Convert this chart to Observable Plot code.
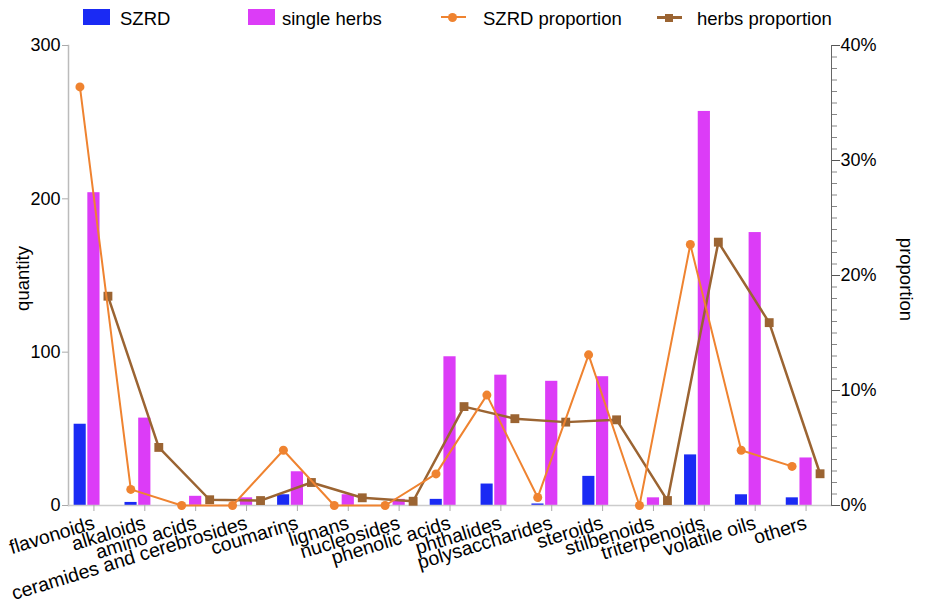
<!DOCTYPE html>
<html>
<head>
<meta charset="utf-8">
<script src="https://cdn.jsdelivr.net/npm/d3@7"></script>
<script src="https://cdn.jsdelivr.net/npm/@observablehq/plot@0.6"></script>
<style>
  html, body { margin: 0; padding: 0; background: #fff; }
  body { font-family: "Liberation Sans", Arial, sans-serif; width: 952px; }
  #legend { position: relative; height: 35px; width: 952px; font-size: 18.5px; color: #000; }
  #legend .t { position: absolute; top: 9px; line-height: 20px; white-space: nowrap; }
  #legend .sw { position: absolute; }
</style>
</head>
<body>
<div id="legend"></div>
<div id="chart"></div>
<script>
// ---- data ----
const categories = ["flavonoids", "alkaloids", "amino acids", "ceramides and cerebrosides", "coumarins", "lignans", "nucleosides", "phenolic acids", "phthalides", "polysaccharides", "steroids", "stilbenoids", "triterpenoids", "volatile oils", "others"];
const szrdCounts = [53, 2, 0, 0, 7, 0, 0, 4, 14, 1, 19, 0, 33, 7, 5];
const herbCounts = [204, 57, 6, 5, 22, 7, 4, 97, 85, 81, 84, 5, 257, 178, 31];
const szrdProportion = [36.4, 1.4, 0, 0, 4.8, 0, 0, 2.75, 9.6, 0.7, 13.1, 0, 22.7, 4.8, 3.4];   // percent
const herbsProportion = [18.2, 5.05, 0.5, 0.43, 2.0, 0.67, 0.37, 8.6, 7.55, 7.25, 7.45, 0.43, 22.9, 15.9, 2.76]; // percent
const quantityTicks = [0, 100, 200, 300];
const proportionTicks = [0, 10, 20, 30, 40];
const proportionMinorTicks = d3.range(0, 41, 1);
const seriesNames = ["SZRD", "single herbs", "SZRD proportion", "herbs proportion"];

const BLUE = "#1a2af4", MAGENTA = "#dc3cf7", ORANGE = "#ef8330", BROWN = "#9b6432";
const QMAX = 300, PMAX = 40, K = QMAX / PMAX; // proportion -> quantity axis

const data = categories.map((c, i) => ({
  cat: c, szrd: szrdCounts[i], herbs: herbCounts[i],
  sp: szrdProportion[i] * K, hp: herbsProportion[i] * K
}));

// ---- legend ----
const legend = document.getElementById("legend");
function add(html) { legend.insertAdjacentHTML("beforeend", html); }
add(`<div class="sw" style="left:83px;top:9px;width:27px;height:16px;background:${BLUE}"></div>`);
add(`<div class="t" style="left:120px">${seriesNames[0]}</div>`);
add(`<div class="sw" style="left:248px;top:9px;width:27px;height:16px;background:${MAGENTA}"></div>`);
add(`<div class="t" style="left:282px">${seriesNames[1]}</div>`);
add(`<div class="sw" style="left:441px;top:16px;width:25px;height:2px;background:${ORANGE}"></div>`);
add(`<div class="sw" style="left:448px;top:12.5px;width:9px;height:9px;border-radius:50%;background:${ORANGE}"></div>`);
add(`<div class="t" style="left:483px">${seriesNames[2]}</div>`);
add(`<div class="sw" style="left:657px;top:16px;width:25px;height:2.5px;background:${BROWN}"></div>`);
add(`<div class="sw" style="left:665px;top:13.5px;width:8px;height:8px;background:${BROWN}"></div>`);
add(`<div class="t" style="left:697px">${seriesNames[3]}</div>`);

// ---- chart ----
const W = 952, H = 578, ML = 68, MR = 121, MT = 10, MB = 108;
const bw = (W - ML - MR) / categories.length;
const c = bw / 2;

const chart = Plot.plot({
  width: W, height: H,
  marginLeft: ML, marginRight: MR, marginTop: MT, marginBottom: MB,
  style: { fontFamily: "Liberation Sans, Arial, sans-serif", fontSize: "18px", color: "#000", background: "transparent", overflow: "visible" },
  x: { domain: categories, padding: 0, round: false, axis: null },
  y: { domain: [0, QMAX], axis: null },
  marks: [
    Plot.barY(data, { x: "cat", y: "szrd", fill: BLUE, insetLeft: c - 19.8, insetRight: bw - (c - 7.7) }),
    Plot.barY(data, { x: "cat", y: "herbs", fill: MAGENTA, insetLeft: c - 6.1, insetRight: c - 6.1 }),
    Plot.frame({ anchor: "left", stroke: "#bbb", strokeWidth: 1.5 }),
    Plot.frame({ anchor: "bottom", stroke: "#ccc", strokeWidth: 1.5 }),
    Plot.frame({ anchor: "right", stroke: "#666", strokeWidth: 1 }),
    Plot.axisX({ anchor: "bottom", tickSize: 6, tickPadding: 11, tickRotate: -17, stroke: "#aaa", fill: "#000", fontSize: 19.5, label: null }),
    Plot.axisY({ anchor: "left", ticks: quantityTicks, tickSize: 6, tickPadding: 2, stroke: "#aaa", fill: "#000", fontSize: 18, label: null }),
    Plot.axisY({ anchor: "right", ticks: proportionMinorTicks.map(p => p * K), tickSize: 5, stroke: "#888", tickFormat: () => "", label: null }),
    Plot.axisY({ anchor: "right", ticks: proportionTicks.map(p => p * K), tickSize: 8, tickPadding: 1, stroke: "#555", fill: "#000", fontSize: 18,
                 tickFormat: d => Math.round(d / K) + "%", label: null }),
    Plot.text(["quantity"], { text: d => d, frameAnchor: "left", textAnchor: "middle", dx: -45, dy: 3, rotate: -90, fontSize: 18.5, fill: "#000" }),
    Plot.text(["proportion"], { text: d => d, frameAnchor: "right", textAnchor: "middle", dx: 74, dy: 4, rotate: 90, fontSize: 18.5, fill: "#000" }),
    Plot.line(data, { x: "cat", y: "hp", stroke: BROWN, strokeWidth: 2.5, dx: 14 }),
    Plot.dot(data, { x: "cat", y: "hp", symbol: "square", fill: BROWN, r: 5, dx: 14 }),
    Plot.line(data, { x: "cat", y: "sp", stroke: ORANGE, strokeWidth: 2, dx: -14 }),
    Plot.dot(data, { x: "cat", y: "sp", fill: ORANGE, r: 4.5, dx: -14 })
  ]
});
document.getElementById("chart").appendChild(chart);
</script>
</body>
</html>
